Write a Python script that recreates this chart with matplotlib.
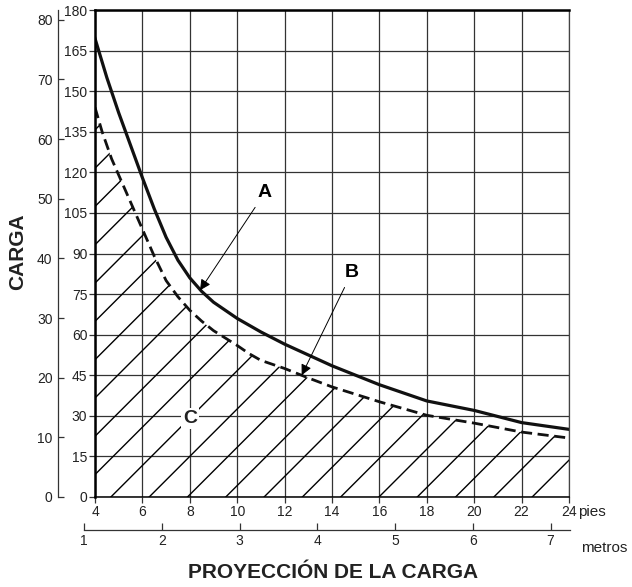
import numpy as np
import matplotlib
matplotlib.use('Agg')
import matplotlib.pyplot as plt

# curve A (solid) : projection [pies] -> load
pies_A = [4.0, 4.5, 5.0, 5.5, 6.0, 6.5, 7.0, 7.5, 8.0, 8.5, 9.0, 10.0, 11.0,
          12.0, 13.0, 14.0, 15.0, 16.0, 17.0, 18.0, 20.0, 22.0, 24.0]
carga_A = [169.5, 155, 142, 130, 118, 106.5, 96, 87.5, 81, 76, 72, 66, 61,
           56.5, 52.5, 48.5, 45, 41.5, 38.5, 35.5, 32, 27.5, 25]

# curve B (dashed), limit of hatched zone C
pies_B = [4.0, 4.3, 4.7, 5.2, 5.6, 6.0, 6.5, 7.0, 7.5, 8.0, 8.5, 9.0, 10.0,
          10.5, 11.0, 12.0, 13.0, 14.0, 16.0, 18.0, 20.0, 22.0, 24.0]
carga_B = [144, 135, 125, 115, 107, 99, 89, 80, 74, 69, 65, 61.5, 56,
           53, 50.5, 47.5, 44, 40.7, 35.2, 30.2, 27.3, 24, 21.8]

pies_ticks = np.arange(4, 25, 2)
carga_ticks = np.arange(0, 181, 15)
kg_ticks = np.arange(0, 81, 10)
metros_ticks = [1, 2, 3, 4, 5, 6, 7]

LB_PER_KG = 2.20462
FT_PER_M = 3.28084

W, H = 632, 587
tick_font = ['Liberation Sans Narrow', 'Liberation Sans', 'DejaVu Sans']
bold_font = ['Liberation Sans', 'DejaVu Sans']

fig = plt.figure(figsize=(W / 100, H / 100), dpi=100)
ax = fig.add_axes([95 / W, 90 / H, 474 / W, 487 / H])
ax.set_xlim(4, 24)
ax.set_ylim(0, 180)
ax.set_xticks(pies_ticks)
ax.set_yticks(carga_ticks)
ax.grid(True, color='#333333', lw=0.9)
ax.set_axisbelow(True)
ax.tick_params(direction='out', length=4.5, width=0.9, color='#333333',
               labelsize=10, labelcolor='#222222', pad=1)
for lab in ax.get_xticklabels() + ax.get_yticklabels():
    lab.set_family(tick_font)
    lab.set_stretch('condensed')
ax.spines['left'].set_linewidth(1.8)
ax.spines['top'].set_linewidth(1.8)
ax.spines['bottom'].set_linewidth(1.1)
ax.spines['right'].set_linewidth(0.9)
ax.spines['right'].set_color('#444444')

# hatched zone under B
poly = ax.fill_between(pies_B, 0, carga_B, facecolor='none', edgecolor='none')
clip = poly.get_paths()[0]
slope = (474 / 20) / (487 / 180)
for x0 in np.arange(4.21 - 180 / slope, 24, 1.616):
    ln, = ax.plot([x0, x0 + 180 / slope], [0, 180], color='k', lw=1.0)
    ln.set_clip_path(clip, ax.transData)

ax.plot(pies_A, carga_A, color='#111111', lw=2.3)
ax.plot(pies_B, carga_B, color='#111111', lw=2.0, linestyle=(0, (4, 2)))

arrow = dict(arrowstyle='-|>', color='k', lw=0.7, mutation_scale=16,
             shrinkA=3, shrinkB=0)
ax.annotate('A', xy=(8.43, 76.4), xytext=(11.17, 112.5), ha='center',
            va='center', fontsize=14, fontweight='bold', family=bold_font,
            arrowprops=arrow)
ax.annotate('B', xy=(12.72, 45), xytext=(14.84, 83), ha='center',
            va='center', fontsize=14, fontweight='bold', family=bold_font,
            arrowprops=arrow)
ax.text(8.0, 29, 'C', ha='center', va='center', fontsize=14,
        fontweight='bold', family=bold_font, color='#222222',
        bbox=dict(facecolor='white', edgecolor='none', pad=1.5))

# outer load axis (kg)
sec = ax.secondary_yaxis((58 - 95) / 474,
                         functions=(lambda v: v / LB_PER_KG,
                                    lambda v: v * LB_PER_KG))
sec.set_yticks(kg_ticks)
sec.tick_params(direction='in', length=4, width=0.9, color='#333333',
                labelsize=10, labelcolor='#222222', pad=4)
sec.spines['left'].set_linewidth(0.9)
sec.spines['left'].set_color('#333333')
for lab in sec.get_yticklabels():
    lab.set_family(tick_font)
    lab.set_stretch('condensed')

# metros scale
ax3 = fig.add_axes([84 / W, 57 / H, 486 / W, 0.0001])
ax3.set_xlim(1, 1 + 486 / (FT_PER_M * 474 / 20))
ax3.set_xticks(metros_ticks)
ax3.set_yticks([])
ax3.patch.set_visible(False)
for s in ['top', 'left', 'right']:
    ax3.spines[s].set_visible(False)
ax3.spines['bottom'].set_linewidth(0.9)
ax3.spines['bottom'].set_color('#333333')
ax3.tick_params(direction='in', length=5, width=0.9, color='#333333',
                labelsize=10, labelcolor='#222222', pad=3)
for lab in ax3.get_xticklabels():
    lab.set_family(tick_font)
    lab.set_stretch('condensed')

fig.text(578 / W, 1 - 512 / H, 'pies', va='center', ha='left', fontsize=11,
         family=bold_font, color='#222222')
fig.text(581 / W, 1 - 548 / H, 'metros', va='center', ha='left', fontsize=11,
         family=bold_font, color='#222222')
fig.text(18 / W, 1 - 252 / H, 'CARGA', rotation=90, ha='center', va='center',
         fontsize=15, fontweight='bold', family=bold_font, color='#222222')
fig.text(333 / W, 1 - 573 / H, 'PROYECCIÓN DE LA CARGA', ha='center',
         va='center', fontsize=15, fontweight='bold', family=bold_font,
         color='#222222')

fig.savefig('out.png', dpi=100)
